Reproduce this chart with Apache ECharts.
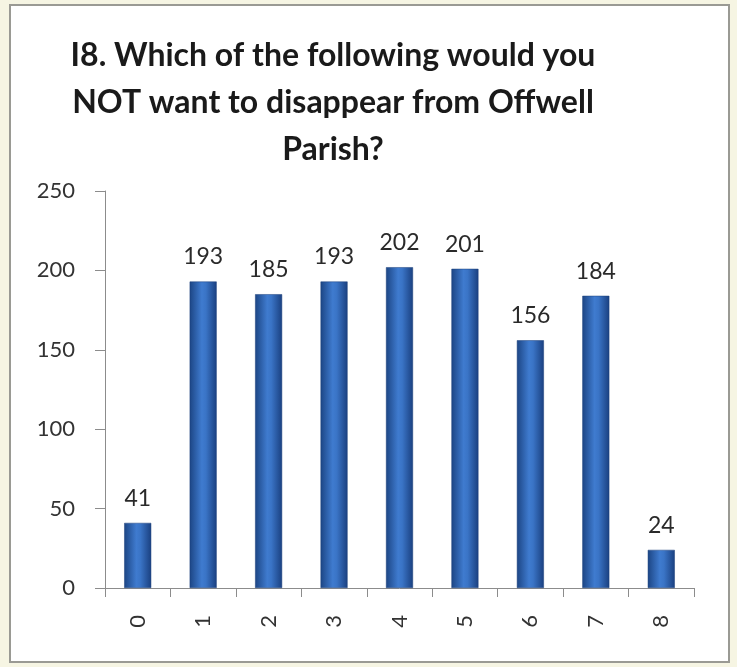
<!DOCTYPE html>
<html>
<head>
<meta charset="utf-8">
<script src="https://cdn.jsdelivr.net/npm/echarts@6/dist/echarts.min.js"></script>
<style>
  html, body { margin: 0; padding: 0; background: #f6f5e3; }
  #chart { width: 737px; height: 667px; }
</style>
</head>
<body>
<div id="chart"></div>
<script>
const categories = ["0", "1", "2", "3", "4", "5", "6", "7", "8"];
const counts = [41, 193, 185, 193, 202, 201, 156, 184, 24];
const yTicks = [0, 50, 100, 150, 200, 250];

const chart = echarts.init(document.getElementById("chart"));

const barColor = new echarts.graphic.LinearGradient(0, 0, 1, 0, [
  { offset: 0, color: "#1c4584" },
  { offset: 0.45, color: "#3f7bcf" },
  { offset: 0.6, color: "#3a74c6" },
  { offset: 1, color: "#1a4080" },
]);

const option = {
  backgroundColor: "#f6f5e3",
  textStyle: { fontFamily: "Lato" },
  graphic: [
    {
      type: "rect",
      shape: { x: 10, y: 5, width: 719, height: 657 },
      style: { fill: "#ffffff", stroke: "#9a9a94", lineWidth: 2 },
      z: -10,
    },
  ],
  title: {
    text: "I8. Which of the following would you\nNOT want to disappear from Offwell\nParish?",
    left: 328,
    top: 27,
    textAlign: "center",
    textStyle: {
      fontFamily: "Lato",
      fontWeight: "bold",
      fontSize: 32,
      lineHeight: 47,
      color: "#1a1a1a",
    },
  },
  grid: { left: 105, right: 43, top: 191, bottom: 79 },
  xAxis: {
    type: "category",
    data: categories,
    axisLine: { lineStyle: { color: "#8c8c8c", width: 1 } },
    axisTick: { show: true, length: 9, lineStyle: { color: "#8c8c8c" } },
    axisLabel: {
      rotate: 90,
      margin: 27,
      fontSize: 22,
      color: "#333333",
    },
  },
  yAxis: {
    type: "value",
    min: 0,
    max: yTicks[yTicks.length - 1],
    interval: 50,
    splitLine: { show: false },
    axisLine: { show: true, lineStyle: { color: "#8c8c8c", width: 1 } },
    axisTick: { show: true, length: 10, lineStyle: { color: "#8c8c8c" } },
    axisLabel: { margin: 30, fontSize: 22, color: "#333333" },
  },
  series: [
    {
      type: "bar",
      data: counts,
      barWidth: 27,
      itemStyle: {
        color: barColor,
        borderColor: "#1a3f7a",
        borderWidth: 0.5,
      },
      label: {
        show: true,
        position: "top",
        distance: 13,
        fontSize: 23,
        color: "#2a2a2a",
      },
    },
  ],
};

chart.setOption(option);
window.addEventListener("resize", () => chart.resize());
</script>
</body>
</html>
